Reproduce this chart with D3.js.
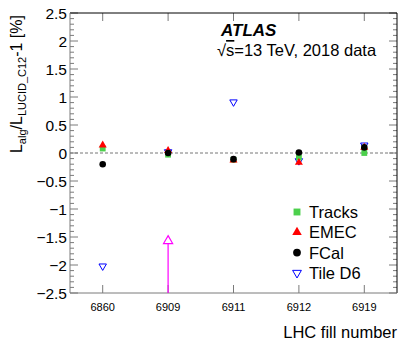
<!DOCTYPE html>
<html>
<head>
<meta charset="utf-8">
<script src="https://cdn.jsdelivr.net/npm/d3@7"></script>
<style>
  body { margin: 0; background: #fff; }
  text { font-family: "Liberation Sans", Arial, sans-serif; }
</style>
</head>
<body>
<div id="chart"></div>
<script>
// data
var fills = ["6860", "6909", "6911", "6912", "6919"];
var tracks = [0.08, -0.03, -0.12, -0.08, 0.0];
var emec = [0.14, 0.04, -0.13, -0.17, 0.1];
var fcal = [-0.2, 0.0, -0.11, 0.01, 0.1];
var tileD6 = [-2.02, 0.02, 0.91, -0.14, 0.14];
// off-scale marker at fill 6909
var offScaleFill = "6909";
var offScaleValue = -1.57;
var yTicks = [-2.5, -2, -1.5, -1, -0.5, 0, 0.5, 1, 1.5, 2, 2.5];

var svgWidth = 414;
var svgHeight = 353;
var margin = { top: 13, right: 17, bottom: 60, left: 70 };
var width = svgWidth - margin.left - margin.right;
var height = svgHeight - margin.top - margin.bottom;

var svg = d3.select("#chart")
  .append("svg")
  .attr("width", svgWidth)
  .attr("height", svgHeight);

var g = svg.append("g")
  .attr("transform", `translate(${margin.left}, ${margin.top})`);

var x = d3.scaleBand().domain(fills).range([0, width]).padding(0);
var y = d3.scaleLinear().domain([-2.5, 2.5]).range([height, 0]);
var cx = d => x(d) + x.bandwidth() / 2;

var axisColor = "#7a7a7a";

// minor ticks every 0.1
var minor = d3.range(-2.5, 2.51, 0.1).map(v => Math.round(v * 10) / 10);

// left axis
var left = g.append("g");
left.selectAll("line.minor").data(minor).enter().append("line")
  .attr("x1", 0).attr("x2", d => yTicks.indexOf(d) >= 0 ? 8 : 4)
  .attr("y1", d => y(d)).attr("y2", d => y(d))
  .attr("stroke", axisColor);
left.selectAll("text").data(yTicks).enter().append("text")
  .attr("x", -3).attr("y", d => y(d)).attr("dy", "0.36em")
  .attr("text-anchor", "end").attr("font-size", 15.5)
  .text(d => d3.format("")(d).replace("-", "\u2212"));

// right ticks
g.append("g").selectAll("line").data(minor).enter().append("line")
  .attr("x1", width).attr("x2", d => width - (yTicks.indexOf(d) >= 0 ? 8 : 4))
  .attr("y1", d => y(d)).attr("y2", d => y(d))
  .attr("stroke", axisColor);

// bottom and top ticks
g.append("g").selectAll("line").data(fills).enter().append("line")
  .attr("x1", cx).attr("x2", cx)
  .attr("y1", height).attr("y2", height - 8)
  .attr("stroke", axisColor);
g.append("g").selectAll("line").data(fills).enter().append("line")
  .attr("x1", cx).attr("x2", cx)
  .attr("y1", 0).attr("y2", 8)
  .attr("stroke", axisColor);
g.append("g").selectAll("text").data(fills).enter().append("text")
  .attr("x", cx).attr("y", height + 18)
  .attr("text-anchor", "middle").attr("font-size", 11)
  .text(d => d);

// frame
g.append("line").attr("x1", 0).attr("x2", width).attr("y1", 0).attr("y2", 0).attr("stroke", "#000");
g.append("line").attr("x1", width).attr("x2", width).attr("y1", 0).attr("y2", height).attr("stroke", "#000");
g.append("line").attr("x1", 0).attr("x2", 0).attr("y1", 0).attr("y2", height).attr("stroke", axisColor);
g.append("line").attr("x1", 0).attr("x2", width).attr("y1", height).attr("y2", height).attr("stroke", axisColor);

// zero line
g.append("line")
  .attr("x1", 0).attr("x2", width)
  .attr("y1", y(0)).attr("y2", y(0))
  .attr("stroke", "#777").attr("stroke-dasharray", "3,2");

// off-scale marker
g.append("line")
  .attr("x1", cx(offScaleFill)).attr("x2", cx(offScaleFill))
  .attr("y1", height).attr("y2", y(offScaleValue) + 2)
  .attr("stroke", "#ff00ff").attr("stroke-width", 1.2);
g.append("path")
  .attr("d", d3.symbol(d3.symbolTriangle, 36)())
  .attr("transform", `translate(${cx(offScaleFill)}, ${y(offScaleValue)})`)
  .attr("fill", "none").attr("stroke", "#ff00ff").attr("stroke-width", 1.2);

// series
var series = [
  { name: "Tile D6", values: tileD6, sym: d3.symbolTriangle, size: 24, fill: "none", stroke: "#0000ff", rot: 180 },
  { name: "Tracks", values: tracks, sym: d3.symbolSquare, size: 34, fill: "#4cd04c", stroke: "none", rot: 0 },
  { name: "EMEC", values: emec, sym: d3.symbolTriangle, size: 28, fill: "#ff0000", stroke: "none", rot: 0 },
  { name: "FCal", values: fcal, sym: d3.symbolCircle, size: 34, fill: "#000", stroke: "none", rot: 0 }
];

series.forEach(function(s) {
  g.append("g").selectAll("path").data(s.values).enter().append("path")
    .attr("d", d3.symbol(s.sym, s.size)())
    .attr("transform", (d, i) => `translate(${cx(fills[i])}, ${y(d)}) rotate(${s.rot})`)
    .attr("fill", s.fill).attr("stroke", s.stroke).attr("stroke-width", 1);
});

// legend
var legendOrder = ["Tracks", "EMEC", "FCal", "Tile D6"];
var legend = svg.append("g");
legendOrder.forEach(function(name, i) {
  var s = series.find(d => d.name === name);
  var ly = 212 + i * 20.3;
  legend.append("path")
    .attr("d", d3.symbol(s.sym, s.size * 1.4)())
    .attr("transform", `translate(297, ${ly}) rotate(${s.rot})`)
    .attr("fill", s.fill).attr("stroke", s.stroke);
  legend.append("text")
    .attr("x", 309).attr("y", ly).attr("dy", "0.36em")
    .attr("font-size", 16.5)
    .text(name);
});

// ATLAS label
svg.append("text")
  .attr("x", 221).attr("y", 36)
  .attr("font-size", 17).attr("font-weight", "bold").attr("font-style", "italic")
  .text("ATLAS");
var sq = svg.append("text")
  .attr("x", 217).attr("y", 56)
  .attr("font-size", 16.5);
sq.append("tspan").text("\u221A");
sq.append("tspan").attr("text-decoration", "overline").text("s");
sq.append("tspan").text("=13 TeV, 2018 data");

// y axis title
var yt = svg.append("text")
  .attr("transform", "translate(22, 15) rotate(-90)")
  .attr("text-anchor", "end")
  .attr("font-size", 16);
yt.append("tspan").text("L");
yt.append("tspan").attr("font-size", 11).attr("dy", 4).text("alg");
yt.append("tspan").attr("dy", -4).text("/L");
yt.append("tspan").attr("font-size", 11).attr("dy", 4).text("LUCID_C12");
yt.append("tspan").attr("dy", -4).text("-1 [%]");

// x axis title
svg.append("text")
  .attr("x", 397).attr("y", 338)
  .attr("text-anchor", "end").attr("font-size", 16.5)
  .text("LHC fill number");
</script>
</body>
</html>
